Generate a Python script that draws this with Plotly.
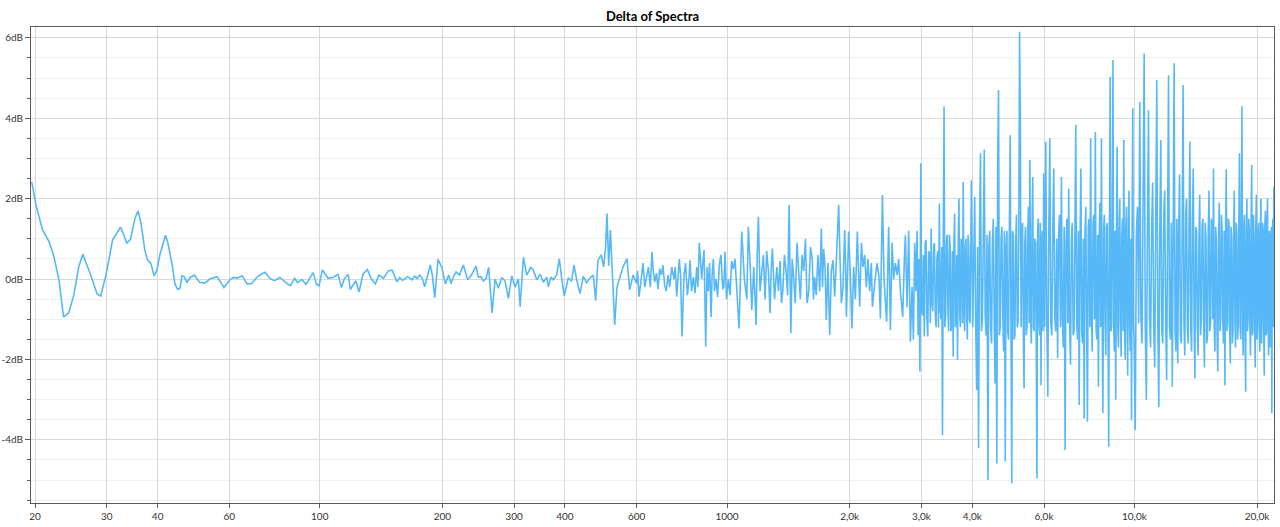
import math
import plotly.graph_objects as go

# ---- tick definitions ----
x_ticks = [20, 30, 40, 60, 100, 200, 300, 400, 600, 1000, 2000, 3000, 4000, 6000, 10000, 20000]
x_ticklabels = ["20", "30", "40", "60", "100", "200", "300", "400", "600", "1000",
                "2,0k", "3,0k", "4,0k", "6,0k", "10,0k", "20,0k"]
y_ticks = [-4, -2, 0, 2, 4, 6]
y_ticklabels = ["-4dB", "-2dB", "0dB", "2dB", "4dB", "6dB"]

# ---- data: frequency (Hz) and delta (dB) ----
freq_low = [
    19.63, 20.11, 20.84, 21.64, 22.2, 22.9, 23.5, 24.2, 24.9, 25.6,
    26.2, 27.4, 28.4, 29.0, 29.9, 31.0, 32.4, 32.9, 33.6, 34.3,
    35.2, 35.8, 36.4, 37.2, 37.8, 38.5, 39.2, 39.8, 40.5, 41.8,
    42.4, 43.5, 44.1, 44.8, 45.4, 45.9, 46.5, 47.2, 48.1, 49.2,
    50.7, 52.2, 53.7, 56.0, 58.2, 60.2, 61.4, 62.8, 64.5, 66.3,
    68.1, 70.4, 73.4, 75.6, 77.4, 79.8, 82.2, 84.6, 86.8, 88.2,
    90.4, 92.5, 96.4, 98.1, 99.6, 101.5, 104.8, 107.8, 110.9, 113.0,
    114.9, 117.4, 118.9, 122.6, 124.9, 127.7, 130.9, 133.9, 137.0, 139.7,
    143.3, 147.6, 150.6, 154.8, 157.1, 159.5, 161.6, 164.0, 166.2, 168.5,
    170.9, 173.4, 175.9, 178.5, 181.0, 183.6, 186.8, 189.0, 191.6, 195.2,
    199.7,
]
db_low = [
    2.42, 1.84, 1.24, 0.93, 0.6, -0.02, -0.94, -0.84, -0.4, 0.3,
    0.62, 0.1, -0.37, -0.42, 0.12, 0.97, 1.29, 1.15, 0.89, 0.99,
    1.51, 1.7, 1.4, 0.72, 0.47, 0.39, 0.08, 0.21, 0.6, 1.09,
    0.89, 0.31, -0.12, -0.26, -0.23, 0.08, 0.06, -0.09, 0.04, 0.1,
    -0.08, -0.1, 0.0, 0.06, -0.21, -0.02, 0.04, 0.02, 0.08, -0.12,
    -0.11, 0.07, 0.17, 0.01, -0.04, 0.04, -0.07, -0.17, 0.02, -0.09,
    -0.01, -0.13, 0.16, -0.12, -0.17, 0.23, 0.02, 0.04, 0.12, -0.21,
    0.0, 0.12, -0.26, -0.04, -0.32, 0.12, 0.24, 0.0, -0.12, 0.1,
    0.02, 0.21, 0.22, -0.07, 0.04, -0.03, 0.0, 0.06, 0.03, -0.02,
    0.07, 0.02, 0.1, 0.02, -0.19, 0.05, 0.35, 0.1, -0.46, 0.49,
    0.27,
]

freq_mid = [
    203.4, 207.3, 210.1, 212.8, 216.1, 220.2, 225.2, 230.8, 235.7, 242.0,
    245.2, 248.9, 252.2, 256.1, 259.9, 265.0, 269.5, 274.5, 279.9, 285.1,
    290.5, 296.1, 301.7, 307.4, 310.4, 316.2, 322.4, 329.7, 334.6, 341.1,
    347.6, 354.1, 360.7, 364.0, 369.5, 374.4, 381.6, 387.3, 392.6, 398.4,
    407.5, 415.4, 420.9, 427.4, 435.4, 443.6, 452.2, 460.8, 469.4, 475.8,
    482.0, 491.3, 497.8, 503.4, 507.2, 512.2, 517.1, 523.0, 529.9, 536.8,
    545.0, 555.3, 567.9, 576.7, 587.6, 599.0, 607.9, 621.8, 633.9, 654.3,
    664.3, 683.4, 703.0, 716.3, 731.5, 741.0, 752.4, 763.4, 775.2, 784.2,
    799.1, 811.4, 826.5, 842.5, 854.9, 866.6, 878.0, 886.5, 899.7, 913.6,
    925.5, 939.8, 957.4, 976.0, 988.8, 1007.4, 1017.1, 1036.3, 1056.4, 1070.1,
    1086.6, 1102.8, 1128.0, 1150.0, 1163.0, 1178.3, 1193.8, 1217.0, 1239.8, 1263.3,
    1275.2, 1292.1, 1325.2, 1349.5, 1370.6, 1396.0, 1420.4, 1434.3, 1455.8, 1484.7,
    1513.3, 1542.4, 1557.6, 1587.7, 1618.8, 1640.7, 1671.4, 1704.2, 1726.4, 1752.8,
    1786.4, 1819.8, 1837.6, 1861.3, 1879.5, 1908.2, 1944.3, 1963.1, 1988.7, 2005.7,
    2026.2, 2045.7, 2065.4, 2089.0, 2116.2, 2136.8, 2156.3, 2176.8, 2197.9, 2218.0,
    2239.2, 2260.9, 2273.9, 2303.8, 2334.0, 2360.7, 2379.5, 2406.7, 2428.4, 2465.0,
    2493.1, 2517.2, 2541.5, 2564.8, 2589.6, 2615.1, 2638.5, 2664.5, 2699.0, 2725.0,
    2740.7, 2767.0, 2792.0, 2819.3, 2846.3, 2867.3, 2888.5, 2908.1, 2928.0, 2944.6,
    2958.0,
]
db_mid = [
    -0.12, 0.1, -0.11, 0.05, 0.18, 0.1, 0.35, -0.02, 0.1, 0.32,
    0.05, 0.06, -0.05, 0.02, 0.29, -0.84, 0.0, -0.23, 0.04, -0.05,
    -0.48, 0.08, -0.2, 0.0, -0.69, 0.54, 0.1, 0.29, 0.22, -0.02,
    0.12, -0.08, 0.05, -0.19, 0.05, -0.02, 0.1, 0.51, 0.03, -0.42,
    0.03, -0.05, 0.35, -0.02, -0.36, 0.07, -0.09, 0.03, 0.1, -0.54,
    0.47, 0.6, 0.3, 0.8, 1.63, 0.33, 1.22, 0.2, -1.14, -0.2,
    0.05, 0.3, 0.51, -0.27, 0.1, -0.1, -0.44, 0.4, 0.05, 0.68,
    -0.07, 0.26, -0.17, 0.1, 0.3, 0.0, -0.44, 0.5, -1.43, 0.1,
    -0.4, 0.47, 0.05, 0.3, 0.9, 0.0, 0.72, -1.68, -0.3, -0.94,
    0.5, 0.0, 0.35, -0.25, 0.68, 0.0, -0.4, 0.25, -0.4, -1.23,
    1.18, 0.0, 1.3, -0.77, 0.3, -1.14, 1.55, 0.15, -0.5, 0.2,
    -0.85, 0.76, 0.3, 0.45, -0.3, 0.2, 1.84, -1.35, 0.1, 0.9,
    -0.5, 0.2, 1.0, -0.3, 0.5, 0.05, 0.6, 1.26, 0.75, -1.02,
    -1.39, 0.47, -0.44, 1.05, 1.84, -0.6, 1.22, -0.94, 1.18, 0.2,
    -1.23, 0.3, -0.5, 1.18, -0.69, 0.9, 0.3, 0.6, -0.2, 0.5,
    -0.3, 0.4, -0.69, -0.1, 0.4, 0.05, -0.98, 2.09, 0.0, -1.06,
    1.3, -1.27, 0.9, 0.0, 0.4, 0.1, 0.5, -0.3, -0.94, 0.5,
    1.09, -0.7, 1.2, -1.56, -0.2, -1.5, 0.9, -0.3, 1.2, -1.4,
    0.5,
]

# extra bins between 600 Hz and 2 kHz
freq_mid_b = [
    603, 614, 628, 641, 648, 659, 671, 677, 690, 696,
    709, 723, 746, 769, 791, 805, 818, 834, 848, 872,
    893, 906, 919, 932, 948, 966, 982, 997, 1026, 1046,
    1118, 1139, 1170, 1186, 1205, 1228, 1251, 1283, 1308, 1337,
    1360, 1383, 1408, 1445, 1470, 1499, 1528, 1572, 1603, 1630,
    1655, 1688, 1715, 1740, 1769, 1803, 1850, 1894, 1926, 1954,
    1976,
]
db_mid_b = [
    0.2, -0.1, -0.2, 0.3, -0.2, 0.2, 0.15, -0.25, 0.1, 0.35,
    -0.3, -0.2, 0.3, 0.1, 0.4, -0.1, -0.3, -0.35, -0.2, 0.4,
    0.3, 0.4, 0.1, -0.3, -0.45, 0.6, -0.2, -0.5, 0.45, 0.5,
    -0.5, 0.4, -0.4, 0.6, -0.3, 0.6, 0.7, 0.2, -0.5, -0.3,
    -0.6, 0.6, -0.4, 0.5, -0.6, 0.1, 0.6, -0.6, 0.8, -0.5,
    -0.4, -0.3, -0.2, 0.3, 0.4, 0.2, 0.2, 0.5, -0.2, 0.4,
    0.1,
]

freq_3k = [
    2975, 2990, 3020, 3050, 3080, 3110, 3140, 3170, 3200, 3230,
    3260, 3290, 3320, 3350, 3380, 3410, 3440, 3470, 3500, 3530,
    3560, 3590, 3620, 3650, 3680, 3710, 3740, 3770, 3800, 3830,
    3860, 3890, 3920, 3950, 3980,
]
db_3k = [
    -2.3, 2.88, -0.9, -1.43, 0.97, -1.43, 0.6, 1.26, -0.8, 0.9,
    -1.2, 0.7, 1.88, -1.0, -3.88, 4.29, -0.9, 1.1, -1.3, 0.8,
    -1.1, -1.93, 1.63, -1.0, -2.01, 2.0, -1.2, 0.9, 2.42, -1.3,
    1.0, -1.5, 0.8, -1.1, 2.46,
]
freq_3k_b = [
    3005, 3035, 3065, 3095, 3125, 3155, 3185, 3215, 3245, 3275,
    3305, 3335, 3365, 3395, 3425, 3455, 3485, 3515, 3545, 3575,
    3605, 3635, 3665, 3695, 3725, 3755, 3785, 3815, 3845, 3875,
    3905, 3935, 3965,
]
db_3k_b = [
    -0.8, 0.6, 0.9, -1.0, 0.7, -1.1, -0.6, 0.8, -0.9, 0.5,
    -1.2, -0.7, 0.8, 1.0, -1.2, 0.9, -0.8, 1.1, -1.3, 0.7,
    0.9, -1.2, 0.6, 1.0, -0.9, 1.0, -1.1, -0.6, 0.8, -0.9,
    1.1, -1.0, 0.7,
]

freq_4k = [
    4010, 4055, 4100, 4145, 4190, 4235, 4280, 4325, 4370, 4415,
    4460, 4505, 4550, 4595, 4640, 4685, 4730, 4775, 4820, 4865,
    4910, 4955, 5000, 5045, 5090, 5135, 5180, 5225, 5270, 5315,
    5360, 5405, 5450, 5495, 5540, 5585, 5630, 5675, 5720, 5765,
    5810, 5855, 5900, 5945, 5990,
]
db_4k = [
    -1.2, 2.05, -2.76, -4.21, 3.13, -1.0, 3.22, -1.4, -5.0, 1.2,
    -1.6, 1.5, -2.6, -4.59, 4.7, -1.2, 1.3, -1.8, -4.54, 1.2,
    -1.5, 3.58, -5.08, 1.1, -1.4, 1.6, -1.1, 6.15, -1.2, 1.4,
    -2.72, 1.3, -1.2, 1.8, 2.96, -1.6, 2.54, -1.3, 0.9, -4.96,
    1.5, -1.4, -2.64, 1.2, 2.63,
]
freq_4k_b = [
    4032, 4077, 4122, 4167, 4212, 4257, 4302, 4347, 4392, 4437,
    4482, 4527, 4572, 4617, 4662, 4707, 4752, 4797, 4842, 4887,
    4932, 4977, 5022, 5067, 5112, 5157, 5202, 5247, 5292, 5337,
    5382, 5427, 5472, 5517, 5562, 5607, 5652, 5697, 5742, 5787,
    5832, 5877, 5922, 5967,
]
db_4k_b = [
    0.9, -1.1, 0.8, 1.2, -1.3, 1.0, -0.9, 1.1, 0.8, -1.2,
    0.9, -1.0, 1.3, 2.84, -1.4, 1.0, -0.9, 1.2, 0.8, -1.3,
    1.1, -1.0, 1.2, -1.5, 0.9, -1.2, 1.0, 4.04, 1.1, -1.3,
    0.9, -1.4, 1.2, -1.1, -1.0, 1.3, -1.2, 1.0, -1.5, 1.2,
    -1.1, 1.4, 0.9, -1.3,
]

freq_6k = [
    6060, 6130, 6200, 6270, 6340, 6410, 6480, 6550, 6620, 6690,
    6760, 6830, 6900, 6970, 7040, 7110, 7180, 7250, 7320, 7390,
    7460, 7530, 7600, 7670, 7740, 7810, 7880, 7950, 8020, 8090,
    8160, 8230, 8300, 8370, 8440, 8510, 8580, 8650, 8720, 8790,
    8860, 8930, 9000, 9070, 9140, 9210, 9280, 9350, 9420, 9490,
    9560, 9630, 9700, 9770, 9840, 9910, 9980,
]
db_6k = [
    3.42, -2.93, 3.5, -1.4, 2.75, -1.3, -1.97, 1.6, 2.54, -1.7,
    -4.25, 1.5, 2.25, -2.14, 1.4, -1.3, 3.83, -1.5, -3.13, 2.75,
    -1.6, -3.47, 1.8, -3.55, 1.5, 3.5, -1.8, 1.6, 3.66, -1.5,
    -2.68, 1.9, 3.5, -3.34, 1.6, -1.9, 1.4, -4.17, 5.03, -1.2,
    5.45, -1.8, -3.0, 3.29, -1.7, 2.0, -1.93, 1.5, 3.46, -2.0,
    1.8, -2.4, 2.2, -1.8, -3.51, 4.25, -1.5,
]
freq_6k_b = [
    6025, 6095, 6165, 6235, 6305, 6375, 6445, 6515, 6585, 6655,
    6725, 6795, 6865, 6935, 7005, 7075, 7145, 7215, 7285, 7355,
    7425, 7495, 7565, 7635, 7705, 7775, 7845, 7915, 7985, 8055,
    8125, 8195, 8265, 8335, 8405, 8475, 8545, 8615, 8685, 8755,
    8825, 8895, 8965, 9035, 9105, 9175, 9245, 9315, 9385, 9455,
    9525, 9595, 9665, 9735, 9805, 9875, 9945,
]
db_6k_b = [
    -1.2, -1.0, 1.2, -1.1, 1.3, -0.9, 1.0, 1.1, -1.2, -1.0,
    1.3, 0.9, -1.1, -1.2, 1.0, -1.4, 1.1, -1.0, 1.2, 0.9,
    -1.3, 1.0, 1.2, -1.1, 1.3, -1.2, -0.9, 1.4, -1.0, -1.3,
    1.1, 1.0, -1.2, -1.0, 1.2, -1.1, 1.3, -1.2, 1.0, -1.3,
    1.4, -1.1, 1.2, 1.0, -1.2, 1.3, -1.0, 1.1, -1.3, -0.9,
    1.2, -1.1, 1.4, -1.2, 1.0, 1.3, -1.1,
]

freq_10k = [
    10050, 10180, 10310, 10440, 10570, 10700, 10830, 10960, 11090, 11220,
    11350, 11480, 11610, 11740, 11870, 12000, 12130, 12260, 12390, 12520,
    12650, 12780, 12910, 13040, 13170, 13300, 13430, 13560, 13690, 13820,
    13950, 14080, 14210, 14340, 14470, 14600, 14730, 14860, 14990, 15120,
    15250, 15380, 15510, 15640, 15770, 15900, 16030, 16160, 16290, 16420,
    16550, 16680, 16810, 16940, 17070, 17200, 17330, 17460, 17590, 17720,
    17850, 17980, 18110, 18240, 18370, 18500, 18630, 18760, 18890, 19020,
    19150, 19280, 19410, 19540, 19670, 19800, 19930, 20060, 20190, 20320,
    20450, 20580, 20710, 20840, 20970, 21100, 21230, 21360, 21490, 21620,
    21750, 21880, 22010,
]
db_10k = [
    -3.76, 1.8, 4.41, -1.6, 5.61, -3.0, 4.2, -1.7, 2.4, -2.2,
    4.95, -3.18, 3.46, -1.6, 2.2, -2.51, 5.07, -1.5, -2.68, 5.37,
    -1.8, -2.1, 2.6, -1.6, 4.83, -1.9, 2.0, -1.6, 3.42, -1.8,
    2.75, -2.47, 1.2, -1.9, 2.1, -1.0, 1.5, -2.2, 1.0, -1.4,
    2.2, -1.1, 1.3, 2.75, -1.8, 0.9, -2.3, 1.9, -1.0, 1.2,
    -1.6, -2.64, 2.73, -1.1, 1.4, -2.1, 1.0, -1.3, 2.2, -1.7,
    1.1, -1.2, 3.13, -1.5, 4.3, -1.9, 1.6, -2.8, 2.0, -1.0,
    1.3, -1.9, 2.84, -1.3, 1.0, -2.2, 2.1, -1.1, 1.4, -1.8,
    2.0, -1.0, 1.2, -2.4, 1.7, -1.3, 2.0, -1.9, 1.1, -1.5,
    -3.34, 1.5, 2.3,
]
freq_10k_b = [
    10115, 10245, 10375, 10505, 10635, 10765, 10895, 11025, 11155, 11285,
    11415, 11545, 11675, 11805, 11935, 12065, 12195, 12325, 12455, 12585,
    12715, 12845, 12975, 13105, 13235, 13365, 13495, 13625, 13755, 13885,
    14015, 14145, 14275, 14405, 14535, 14665, 14795, 14925, 15055, 15185,
    15315, 15445, 15575, 15705, 15835, 15965, 16095, 16225, 16355, 16485,
    16615, 16745, 16875, 17005, 17135, 17265, 17395, 17525, 17655, 17785,
    17915, 18045, 18175, 18305, 18435, 18565, 18695, 18825, 18955, 19085,
    19215, 19345, 19475, 19605, 19735, 19865, 19995, 20125, 20255, 20385,
    20515, 20645, 20775, 20905, 21035, 21165, 21295, 21425, 21555, 21685,
    21815, 21945,
]
db_10k_b = [
    1.2, -1.1, -0.9, 1.4, -1.2, 1.1, -1.0, 1.3, -1.2, 1.5,
    -1.1, 1.2, -1.3, 1.6, -1.0, 1.3, -1.2, 1.4, 1.1, -1.3,
    1.5, 1.2, -1.4, 1.3, -1.1, 1.6, -1.2, 1.4, -1.3, 1.5,
    -1.1, 1.3, -1.2, 1.0, -1.4, 1.3, -1.1, 1.4, -1.6, 1.2,
    -1.3, 1.5, -1.0, -1.2, 1.3, -1.5, 1.1, -1.3, 1.6, -1.1,
    1.2, 1.0, -1.3, 1.5, -1.2, 1.3, -1.6, 1.1, -1.0, 1.4,
    -1.5, 1.2, -1.1, 1.6, -1.2, 1.3, -1.4, 1.1, -1.3, 1.5,
    -1.2, 1.2, -1.4, 1.6, -1.1, 1.3, -1.5, 1.2, -1.3, 1.1,
    -1.6, 1.4, -1.2, 1.3, -1.4, 1.5, -1.1, 1.2, -1.7, 1.3,
    1.0, -1.2,
]

bands = [
    (freq_low, db_low), (freq_mid, db_mid), (freq_mid_b, db_mid_b),
    (freq_3k, db_3k), (freq_3k_b, db_3k_b),
    (freq_4k, db_4k), (freq_4k_b, db_4k_b),
    (freq_6k, db_6k), (freq_6k_b, db_6k_b),
    (freq_10k, db_10k), (freq_10k_b, db_10k_b),
]
points = []
for f_list, d_list in bands:
    if len(f_list) != len(d_list):
        raise ValueError(f"length mismatch {len(f_list)} vs {len(d_list)} at {f_list[0]}")
    points.extend(zip(f_list, d_list))
points.sort(key=lambda p: p[0])
freq = [p[0] for p in points]
delta_db = [p[1] for p in points]

FONT = "Lato, 'Noto Sans', 'DejaVu Sans', sans-serif"
AXIS = "#5a5a5a"

fig = go.Figure(
    go.Scatter(
        x=freq, y=delta_db, mode="lines",
        line=dict(color="#57b8f8", width=1.6),
        hoverinfo="x+y",
    )
)

fig.update_layout(
    width=1280, height=527,
    margin=dict(l=31, r=6, t=27, b=24, autoexpand=False),
    paper_bgcolor="white", plot_bgcolor="white",
    showlegend=False,
    font=dict(family=FONT, size=10, color="#333333"),
    title=dict(
        text="<b>Delta of Spectra</b>",
        x=0.5, xref="paper", xanchor="center",
        y=1 - 16 / 527, yref="container", yanchor="middle",
        font=dict(family=FONT, size=13, color="#000000"),
    ),
)

fig.update_xaxes(
    type="log", automargin=False,
    range=[math.log10(19.55), math.log10(22018)],
    tickmode="array", tickvals=x_ticks, ticktext=x_ticklabels,
    showgrid=True, gridcolor="#d8d8d8", gridwidth=1,
    ticks="outside", ticklen=4, tickcolor=AXIS,
    showline=True, linecolor=AXIS, linewidth=1, mirror=True,
    zeroline=False,
    tickfont=dict(size=10, color="#333333"),
)

fig.update_yaxes(
    automargin=False,
    range=[-5.57, 6.27],
    tickmode="array", tickvals=y_ticks, ticktext=y_ticklabels,
    showgrid=True, gridcolor="#d8d8d8", gridwidth=1,
    ticks="outside", ticklen=5, tickcolor=AXIS,
    showline=True, linecolor=AXIS, linewidth=1, mirror=True,
    zeroline=False,
    tickfont=dict(size=10, color="#333333"),
    minor=dict(
        tickmode="linear", tick0=0, dtick=0.5,
        ticks="outside", ticklen=3, tickcolor=AXIS,
        showgrid=True, gridcolor="#f0f0f0", gridwidth=1,
    ),
)

fig.write_html(
    "out.html",
    config={"displayModeBar": False},
    post_script="document.body.style.margin='0';document.body.style.padding='0';",
)
